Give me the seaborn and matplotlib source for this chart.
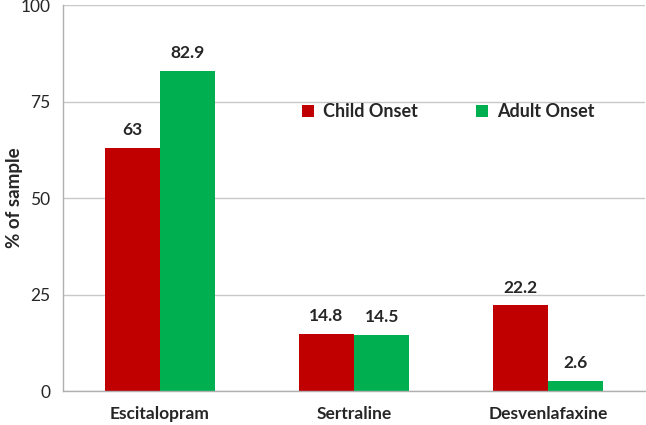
import matplotlib
matplotlib.use("Agg")
import matplotlib.pyplot as plt
import seaborn as sns
import pandas as pd

drugs = ["Escitalopram", "Sertraline", "Desvenlafaxine"]
child_onset = [63, 14.8, 22.2]
adult_onset = [82.9, 14.5, 2.6]
child_labels = ["63", "14.8", "22.2"]
adult_labels = ["82.9", "14.5", "2.6"]
groups = ["Child Onset", "Adult Onset"]
yticks = [0, 25, 50, 75, 100]

df = pd.DataFrame({
    "drug": drugs * 2,
    "group": [groups[0]] * 3 + [groups[1]] * 3,
    "value": child_onset + adult_onset,
})

sns.set_style("white")
plt.rcParams["font.family"] = ["Lato", "DejaVu Sans"]

fig = plt.figure(figsize=(6.46, 4.25), dpi=100)
ax = fig.add_axes([63 / 646, 34 / 425, 582 / 646, 386 / 425])

sns.barplot(data=df, x="drug", y="value", hue="group", order=drugs,
            hue_order=groups, palette=["#C00000", "#00B050"],
            width=0.57, saturation=1, linewidth=0, ax=ax, errorbar=None)

ax.set_ylim(0, 100)
ax.set_xlim(-0.5, 2.5)
ax.set_yticks(yticks)
ax.set_yticklabels([str(t) for t in yticks], fontsize=12.5)
ax.yaxis.grid(True, color="#c8c8c8", linewidth=1)
ax.set_axisbelow(True)

ax.set_xticks([-0.5, 0.5, 1.5, 2.5], minor=True)
ax.tick_params(axis="x", which="major", length=0, pad=11)
ax.tick_params(axis="x", which="minor", length=4, color="#b0b0b0")
ax.tick_params(axis="y", length=4, color="#b0b0b0", pad=5)
for lab in ax.get_xticklabels():
    lab.set_fontweight("bold")
    lab.set_fontsize(12.5)

for side in ["top", "right"]:
    ax.spines[side].set_visible(False)
for side in ["left", "bottom"]:
    ax.spines[side].set_color("#b0b0b0")
    ax.spines[side].set_linewidth(1)

ax.set_xlabel("")
ax.set_ylabel("% of sample", fontsize=13.5, fontweight="bold")
ax.yaxis.set_label_coords(-40 / 582, 0.5)

for cont, labels in zip(ax.containers, [child_labels, adult_labels]):
    ax.bar_label(cont, labels=labels, padding=7, fontsize=12.5, fontweight="bold")

handles, _ = ax.get_legend_handles_labels()
leg = ax.legend(handles, groups, loc="center", bbox_to_anchor=(0.662, 0.723),
                ncol=2, frameon=False, fontsize=13, handlelength=0.7,
                handleheight=0.7, handletextpad=0.5, columnspacing=3.2)
for t in leg.get_texts():
    t.set_fontweight("bold")

fig.savefig("out.png", dpi=100)
